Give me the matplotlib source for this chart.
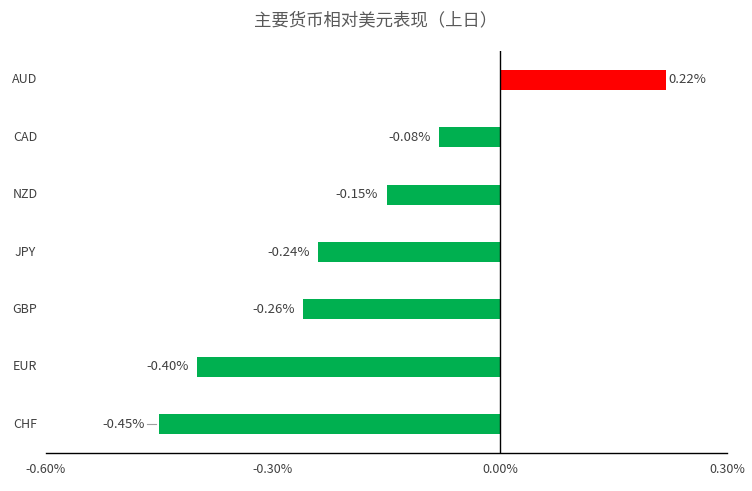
import matplotlib
import matplotlib.pyplot as plt
import matplotlib.transforms as mtransforms

matplotlib.use("Agg")
plt.rcParams["font.family"] = ["Noto Sans CJK SC", "DejaVu Sans"]

currencies = ["AUD", "CAD", "NZD", "JPY", "GBP", "EUR", "CHF"]
changes = [0.22, -0.08, -0.15, -0.24, -0.26, -0.40, -0.45]
xticks = [-0.60, -0.30, 0.00, 0.30]
title = "主要货币相对美元表现（上日）"

fig = plt.figure(figsize=(7.52, 4.91), dpi=100)
ax = fig.add_axes([46 / 752, 38 / 491, 681 / 752, 402 / 491])

y = list(range(len(currencies)))[::-1]
colors = ["#FF0000" if v > 0 else "#00B050" for v in changes]
ax.barh(y, changes, height=0.35, color=colors, zorder=2)

ax.set_xlim(-0.60, 0.30)
ax.set_ylim(-0.5, len(currencies) - 0.5)
ax.axvline(0, color="black", linewidth=1, zorder=3)

for s in ["top", "right", "left"]:
    ax.spines[s].set_visible(False)
ax.spines["bottom"].set_linewidth(1)
ax.spines["bottom"].set_color("black")

ax.set_xticks(xticks)
ax.set_xticklabels([f"{t:.2f}%" for t in xticks], fontsize=9, color="#404040")
ax.tick_params(axis="x", length=0, pad=7)
ax.set_yticks([])

# category labels sit at the left edge of the figure
trans = mtransforms.blended_transform_factory(fig.transFigure, ax.transData)
for yi, name in zip(y, currencies):
    ax.text(25 / 752, yi, name, transform=trans, ha="center", va="center",
            fontsize=9, color="#404040")

# value labels
for yi, v in zip(y, changes):
    if v > 0:
        ax.text(v + 0.003, yi, f"{v:.2f}%", ha="left", va="center",
                fontsize=9.5, color="#404040")
    elif v <= -0.45:
        ax.plot([v - 0.016, v - 0.004], [yi, yi], color="#A0A0A0", lw=0.8)
        ax.text(v - 0.019, yi, f"{v:.2f}%", ha="right", va="center",
                fontsize=9.5, color="#404040")
    else:
        ax.text(v - 0.011, yi, f"{v:.2f}%", ha="right", va="center",
                fontsize=9.5, color="#404040")

fig.text(0.5, 1 - 20 / 491, title, ha="center", va="center",
         fontsize=12.5, color="#595959")

fig.savefig("out.png", dpi=100)
